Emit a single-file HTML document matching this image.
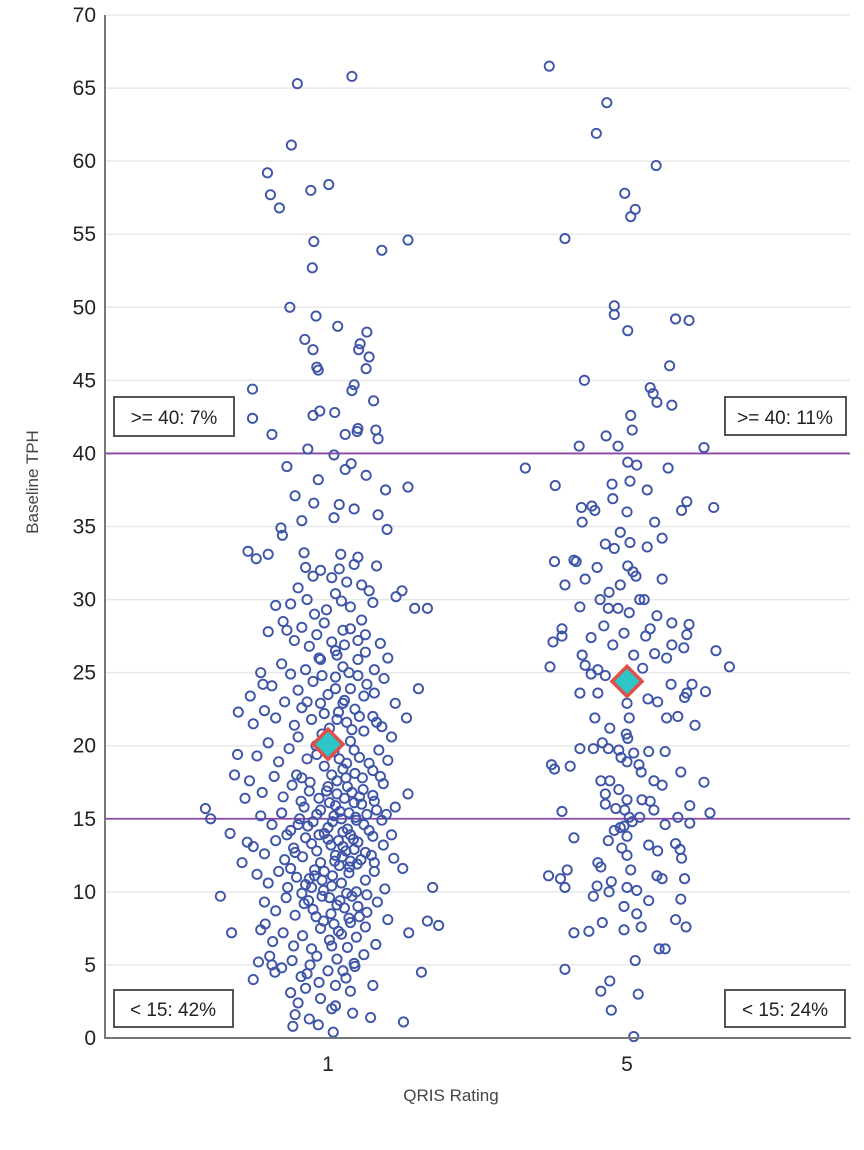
<!DOCTYPE html>
<html><head><meta charset="utf-8"><style>
body{margin:0;background:#fff}
svg{display:block;font-family:"Liberation Sans",sans-serif}
</style></head><body>
<svg id="chart" width="864" height="1150" viewBox="0 0 864 1150">
<g id="grid"></g>
<g id="refs"></g>
<g id="pts"></g>
<g id="means"></g>
<line x1="105" y1="15" x2="105" y2="1038" stroke="#777" stroke-width="2"/>
<line x1="104" y1="1038" x2="851" y2="1038" stroke="#777" stroke-width="2"/>
<g id="yticks" font-size="21" fill="#222" text-anchor="end"></g>
<g id="xticks" font-size="21" fill="#222" text-anchor="middle"></g>
<text x="451" y="1101" font-size="17" fill="#444" text-anchor="middle">QRIS Rating</text>
<text transform="translate(38,482) rotate(-90)" font-size="17" fill="#444" text-anchor="middle">Baseline TPH</text>
<g><rect x="114" y="397" width="120" height="39" fill="#fff" stroke="#555" stroke-width="2"/><text x="174" y="424" font-size="19" text-anchor="middle" fill="#222">&gt;= 40: 7%</text></g>
<g><rect x="725" y="397" width="121" height="38" fill="#fff" stroke="#555" stroke-width="2"/><text x="785" y="424" font-size="19" text-anchor="middle" fill="#222">&gt;= 40: 11%</text></g>
<g><rect x="114" y="990" width="119" height="37" fill="#fff" stroke="#555" stroke-width="2"/><text x="173" y="1016" font-size="19" text-anchor="middle" fill="#222">&lt; 15: 42%</text></g>
<g><rect x="725" y="990" width="120" height="37" fill="#fff" stroke="#555" stroke-width="2"/><text x="785" y="1016" font-size="19" text-anchor="middle" fill="#222">&lt; 15: 24%</text></g>
</svg>
<script>
const categories = [1, 5];
const yTicks = [0,5,10,15,20,25,30,35,40,45,50,55,60,65,70];
const refValues = [15, 40];
const meanValues = [20.1, 24.4];
// group 1: jitter offset, y pairs
const group1 = [-0.41,65.3,0.32,65.8,-0.49,61.1,-0.81,59.2,-0.77,57.7,-0.65,56.8,-0.23,58,0.01,58.4,-0.19,54.5,1.07,54.6,0.72,53.9,-0.21,52.7,-0.51,50,-0.16,49.4,0.13,48.7,0.52,48.3,-0.31,47.8,0.43,47.5,0.41,47.1,-0.2,47.1,0.55,46.6,-0.15,45.9,-0.13,45.7,0.51,45.8,-1.01,44.4,0.35,44.7,0.32,44.3,0.61,43.6,-1.01,42.4,-0.75,41.3,-0.2,42.6,0.09,42.8,-0.11,42.9,0.23,41.3,0.39,41.5,0.4,41.7,0.64,41.6,0.67,41,-0.55,39.1,-0.27,40.3,0.08,39.9,0.31,39.3,-0.13,38.2,0.23,38.9,0.51,38.5,1.07,37.7,0.77,37.5,-0.44,37.1,-0.19,36.6,0.15,36.5,0.35,36.2,0.67,35.8,-0.35,35.4,0.08,35.6,0.79,34.8,-0.63,34.9,-0.61,34.4,-0.32,33.2,-1.07,33.3,-0.96,32.8,-0.8,33.1,0.17,33.1,0.65,32.3,0.4,32.9,
-1.64,15.7,-1.57,15,-1.44,9.7,-1.29,7.2,-1.2,22.3,-1.21,19.4,-1.25,18,-1.31,14,-1.11,16.4,-1.15,12,-1.08,13.4,-1.04,23.4,-1,4,-0.93,5.2,-0.87,24.2,-0.8,27.8,-0.84,7.8,-0.75,5,-0.71,4.5,1.33,29.4,1.16,29.4,0.99,30.6,0.91,30.2,1.21,23.9,1.05,21.9,1.07,16.7,1.4,10.3,1.33,8,1.48,7.7,1.08,7.2,1.25,4.5,1.01,1.1,0.57,1.4,0.33,1.7,0.07,0.4,-0.47,0.8,-0.44,1.6,-0.13,0.9,-0.25,1.3,
-0.6,28.5,-0.5,29.7,-0.4,30.8,-0.3,32.2,-0.2,31.6,-0.1,32,0.05,31.5,0.15,32.1,0.25,31.2,0.35,32.4,0.45,31,0.55,30.6,0.6,29.8,-0.7,29.6,-0.55,27.9,-0.45,27.2,-0.35,28.1,-0.25,26.8,-0.15,27.6,-0.05,28.4,0.05,27.1,0.12,26.2,0.2,27.9,0.3,28.0,0.4,27.2,0.5,26.4,0.7,27.0,0.8,26.0,-0.9,25.0,-0.75,24.1,-0.62,25.6,-0.5,24.9,-0.4,23.8,-0.3,25.2,-0.2,24.4,-0.1,25.9,0,23.5,0.1,24.7,0.2,25.4,0.3,23.9,0.4,24.8,0.52,24.2,0.62,23.6,0.75,24.6,0.9,22.9,-1.0,21.5,-0.85,22.4,-0.7,21.9,-0.58,23.0,-0.45,21.4,-0.35,22.6,-0.22,21.8,-0.1,22.9,0.02,21.2,0.14,22.3,0.25,21.6,0.36,22.5,0.48,21.0,0.6,22.0,0.72,21.3,0.85,20.6,-0.95,19.3,-0.8,20.2,-0.66,18.9,-0.52,19.8,-0.4,20.6,-0.28,19.1,-0.16,20.0,-0.05,18.6,0.08,19.6,0.2,18.4,0.3,20.3,0.42,19.2,0.55,18.8,0.68,19.7,0.8,19.0,-1.05,17.6,-0.88,16.8,-0.72,17.9,-0.6,16.5,-0.48,17.3,-0.36,16.2,-0.24,17.5,-0.12,16.4,0,17.2,0.12,16.7,0.24,17.8,0.35,16.1,0.47,17.0,0.6,16.6,0.74,17.4,0.9,15.8,-0.9,15.2,-0.75,14.6,-0.62,15.4,-0.5,14.2,-0.38,15.0,-0.27,14.5,-0.15,15.3,-0.05,14.0,0.06,14.8,0.16,15.5,0.26,14.3,0.37,15.1,0.48,14.6,0.6,13.8,0.72,14.9,0.85,13.9,-1.0,13.1,-0.85,12.6,-0.7,13.5,-0.58,12.2,-0.46,13.0,-0.34,12.4,-0.22,13.3,-0.1,12.0,0,13.6,0.1,12.5,0.2,13.1,0.3,12.1,0.4,13.4,0.5,12.7,0.62,12.0,0.74,13.2,0.88,12.3,1.0,11.6,-0.95,11.2,-0.8,10.6,-0.66,11.4,-0.54,10.3,-0.42,11.0,-0.3,10.5,-0.18,11.5,-0.06,10.1,0.06,11.1,0.18,10.6,0.28,11.3,0.38,10.0,0.5,10.8,0.62,11.4,0.76,10.2,-0.85,9.3,-0.7,8.7,-0.56,9.6,-0.44,8.4,-0.32,9.2,-0.2,8.8,-0.08,9.7,0.04,8.5,0.16,9.4,0.28,8.2,0.4,9.0,0.52,8.6,0.66,9.3,0.8,8.1,-0.9,7.4,-0.74,6.6,-0.6,7.2,-0.46,6.3,-0.34,7.0,-0.22,6.1,-0.1,7.5,0.02,6.7,0.14,7.3,0.26,6.2,0.38,6.9,0.5,7.6,0.64,6.4,-0.78,5.6,-0.62,4.8,-0.48,5.3,-0.36,4.2,-0.24,5.0,-0.12,3.8,0,4.6,0.12,5.4,0.24,4.1,0.36,4.9,0.48,5.7,0.6,3.6,-0.5,3.1,-0.3,3.4,-0.1,2.7,0.1,2.2,0.3,3.2,-0.4,2.4,0.05,2.0,
-0.2,14.8,-0.1,15.6,0,14.4,0.1,15.9,0.2,14.1,-0.3,13.7,0.3,13.9,-0.15,12.8,0.15,11.8,-0.05,11.4,0.05,10.4,-0.25,10.9,0.25,9.9,-0.35,9.9,0.35,12.9,-0.12,26.0,0.1,26.5,-0.02,29.3,0.18,29.9,-0.28,23.0,0.22,23.1,-0.08,20.8,0.12,21.8,0.02,16.1,-0.42,18.0,0.45,16.0,-0.55,13.9,0.55,14.2,
0.08,15.2,0.18,15.0,0.28,15.4,0.38,14.9,0.22,16.4,0.32,16.8,0.42,16.5,-0.02,16.9,0.12,17.6,0.26,17.2,0.36,18.1,0.46,17.8,0.04,13.2,0.14,13.5,0.24,12.8,0.34,13.6,0.44,12.2,0.09,12.1,0.19,12.4,0.29,11.7,0.39,11.9,-0.12,13.9,-0.18,11.1,-0.22,10.3,-0.08,10.8,0.02,9.6,0.12,9.1,0.22,8.9,0.32,9.7,-0.26,9.4,-0.16,8.3,-0.06,8.0,0.08,7.8,0.18,7.1,0.3,7.9,0.42,8.3,0.52,9.8,0.58,12.5,0.65,15.6,0.52,15.3,0.62,16.2,-0.32,15.8,-0.4,14.6,-0.44,12.7,-0.5,11.6,0.15,19.1,0.25,18.8,0.35,19.7,0.05,18.0,-0.15,19.4,0.32,21.1,0.42,22.0,-0.05,22.2,0.2,22.9,0.48,23.4,0.1,23.9,0.28,25.0,0.4,25.9,-0.08,24.8,0.22,26.9,0.45,28.6,0.3,29.5,0.1,30.4,-0.28,30.0,-0.18,29.0,0.5,27.6,0.62,25.2,0.65,21.6,0.6,18.3,0.7,17.9,0.78,15.3,-0.25,16.9,-0.35,17.8,0.05,6.3,-0.15,5.6,0.2,4.6,-0.28,4.4,0.35,5.1,0.1,3.6];
// group 5: jitter offset, y pairs
const group5 = [-1.04,66.5,-0.27,64,-0.41,61.9,0.39,59.7,-0.03,57.8,0.11,56.7,0.05,56.2,-0.83,54.7,-0.17,50.1,-0.17,49.5,0.65,49.2,0.83,49.1,0.01,48.4,0.57,46,-0.57,45,0.31,44.5,0.35,44.1,0.4,43.5,0.6,43.3,0.05,42.6,0.07,41.6,-0.28,41.2,-0.64,40.5,-0.12,40.5,1.03,40.4,-1.36,39,0.01,39.4,0.13,39.2,0.55,39,-0.2,37.9,-0.96,37.8,0.04,38.1,0.27,37.5,-0.19,36.9,0.8,36.7,1.16,36.3,-0.47,36.4,-0.43,36.1,0.73,36.1,-0.61,36.3,0,36,0.37,35.3,-0.6,35.3,-0.09,34.6,0.47,34.2,-0.29,33.8,-0.17,33.5,0.04,33.9,0.27,33.6,-0.71,32.7,-0.68,32.6,-0.97,32.6,-0.4,32.2,0.01,32.3,0.08,31.9,0.12,31.6,-0.83,31,-0.56,31.4,-0.09,31,0.47,31.4,-0.24,30.5,0.17,30,0.23,30,-0.36,30,-0.63,29.5,-0.25,29.4,-0.12,29.4,0.03,29.1,0.4,28.9,0.6,28.4,0.83,28.3,-0.31,28.2,-0.87,28,-0.87,27.5,0.31,28,-0.48,27.4,-0.04,27.7,0.25,27.5,0.8,27.6,-0.99,27.1,-0.19,26.9,0.6,26.9,0.09,26.2,0.37,26.3,0.76,26.7,1.19,26.5,-0.6,26.2,0.53,26,-0.56,25.5,-1.03,25.4,-0.39,25.2,0.21,25.3,1.37,25.4,-0.48,24.9,-0.29,24.8,0.59,24.2,0.87,24.2,0.8,23.6,1.05,23.7,-0.63,23.6,-0.39,23.6,0.28,23.2,0.41,23,0,22.9,0.77,23.3,0.53,21.9,0.68,22,0.03,21.9,-0.43,21.9,0.91,21.4,-0.23,21.2,-0.01,20.8,0.01,20.5,-0.63,19.8,-0.33,20.2,-0.25,19.8,-0.11,19.7,0.09,19.5,0.29,19.6,0.51,19.6,-0.45,19.8,-0.08,19.2,0,18.9,0.16,18.7,-1.01,18.7,-0.97,18.4,-0.76,18.6,0.19,18.2,0.72,18.2,0.36,17.6,1.03,17.5,-0.35,17.6,-0.23,17.6,0.47,17.3,-0.11,17,-0.29,16.7,0,16.3,0.2,16.3,0.31,16.2,-0.29,16,0.84,15.9,-0.87,15.5,-0.15,15.7,-0.03,15.6,1.11,15.4,0.36,15.6,0.03,15.1,0.17,15.1,0.68,15.1,-0.09,14.4,0.07,14.8,-0.17,14.2,-0.04,14.5,0.51,14.6,0.84,14.7,-0.71,13.7,0,13.8,-0.25,13.5,0.29,13.2,0.65,13.3,0.71,12.9,-0.07,13,0.41,12.8,0,12.5,0.73,12.3,-0.39,12,-0.35,11.7,0.05,11.5,-1.05,11.1,-0.89,10.9,-0.8,11.5,0.4,11.1,0.47,10.9,0.77,10.9,-0.21,10.7,-0.4,10.4,-0.83,10.3,0,10.3,-0.24,10,0.13,10.1,-0.45,9.7,0.29,9.4,0.72,9.5,-0.04,9,0.13,8.5,-0.33,7.9,0.19,7.6,0.65,8.1,-0.51,7.3,-0.04,7.4,0.79,7.6,-0.71,7.2,0.43,6.1,0.51,6.1,0.11,5.3,-0.83,4.7,-0.35,3.2,-0.23,3.9,0.15,3,-0.21,1.9,0.09,0.1];

const NS='http://www.w3.org/2000/svg';
const yMin=0,yMax=70,yTop=15,yBot=1038;
function ys(v){return yBot-(v-yMin)/(yMax-yMin)*(yBot-yTop);}
function xs(v){return 328+(v-1)*74.75;}
function mk(tag,attrs,parent){const e=document.createElementNS(NS,tag);for(const k in attrs)e.setAttribute(k,attrs[k]);parent.appendChild(e);return e;}

const grid=document.getElementById('grid');
const yt=document.getElementById('yticks');
yTicks.forEach(t=>{
  if(t>0){const l=mk('line',{x1:105,x2:850,y1:ys(t),y2:ys(t),stroke:'#e8e8e8','stroke-width':1.5},grid);
  
  }
  const tx=mk('text',{x:96,y:ys(t)+7},yt);tx.textContent=t;
  
  
});
const xt=document.getElementById('xticks');
categories.forEach(c=>{const tx=mk('text',{x:xs(c),y:1071},xt);tx.textContent=c;
  
  
});
const refs=document.getElementById('refs');
refValues.forEach(r=>{const l=mk('line',{x1:105,x2:850,y1:ys(r),y2:ys(r),stroke:'#8b45a6','stroke-width':1.8},refs);
  
  
});
const pts=document.getElementById('pts');
[group1,group5].forEach((g,gi)=>{
  for(let i=0;i<g.length;i+=2){
    const c=mk('circle',{cx:xs(categories[gi]+g[i]),cy:ys(g[i+1]),r:4.6,fill:'none',stroke:'#3e55a8','stroke-width':1.9},pts);
    
    
  }
});
const means=document.getElementById('means');
meanValues.forEach((m,i)=>{
  const cx=xs(categories[i]),cy=ys(m),s=15;
  const p=mk('polygon',{points:`${cx},${cy-s} ${cx+s},${cy} ${cx},${cy+s} ${cx-s},${cy}`,fill:'#2ec5c7',stroke:'#e0504b','stroke-width':3.5},means);
  
  
});
</script>
</body></html>
